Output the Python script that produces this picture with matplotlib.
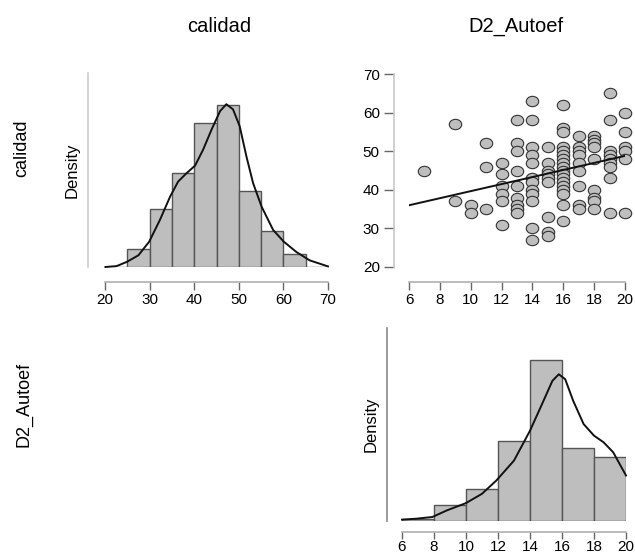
import numpy as np
import matplotlib
matplotlib.use("Agg")
import matplotlib.pyplot as plt
from matplotlib.path import Path
from matplotlib.transforms import Affine2D

plt.rcParams['font.family'] = ['Liberation Sans', 'DejaVu Sans']

# histograma de calidad (bins de 5)
cal_edges = [20, 25, 30, 35, 40, 45, 50, 55, 60, 65, 70]
cal_counts = [0, 8, 26, 42, 64, 72, 34, 16, 6, 0]

# histograma de D2_Autoef (bins de 2)
aut_edges = [6, 8, 10, 12, 14, 16, 18, 20]
aut_counts = [1, 10, 20, 50, 101, 46, 40]

# curvas de densidad leidas
kde_cal_x = [20.1, 22.6, 24.9, 27.5, 29.9, 32.3, 34.6, 36.4, 38.3, 40.2, 42.0, 43.9,
             45.8, 47.2, 48.7, 50.2, 51.7, 53.2, 55.1, 57.7, 60.1, 62.9, 65.9, 70.0]
kde_cal_y = [0.0000, 0.0003, 0.0017, 0.0039, 0.0084, 0.0156, 0.0234, 0.0284, 0.0312,
             0.0337, 0.0390, 0.0457, 0.0518, 0.0541, 0.0524, 0.0468, 0.0368, 0.0279,
             0.0201, 0.0123, 0.0084, 0.0050, 0.0022, 0.0002]
kde_aut_x = [6.0, 6.9, 7.9, 8.8, 10.0, 11.0, 11.9, 13.0, 14.0, 14.75, 15.4, 15.8,
             16.2, 16.7, 17.35, 18.0, 18.6, 19.2, 20.0]
kde_aut_y = [0.0016, 0.0027, 0.0047, 0.0124, 0.0210, 0.0319, 0.0475, 0.0708, 0.1058,
             0.1369, 0.1642, 0.1719, 0.1661, 0.1408, 0.1136, 0.1000, 0.0922, 0.0805,
             0.0533]

# dispersion D2_Autoef (x) vs calidad (y)
sc_aut = ([7] + [9]*2 + [10]*2 + [11]*3 + [12]*6 + [13]*9 + [14]*12 + [15]*9 +
          [16]*18 + [17]*9 + [18]*9 + [19]*9 + [20]*6)
sc_cal = ([45] +
          [57, 37] +
          [36, 34] +
          [52, 46, 35] +
          [47, 44, 41, 39, 37, 31] +
          [58, 52, 50, 45, 41, 38, 36, 35, 34] +
          [63, 58, 51, 49, 47, 43, 42, 40, 39, 37, 30, 27] +
          [51, 47, 45, 44, 43, 42, 33, 29, 28] +
          [62, 56, 55, 51, 50, 49, 48, 47, 46, 45, 44, 43, 42, 41, 40, 39, 36, 32] +
          [54, 51, 50, 49, 47, 45, 41, 36, 35] +
          [54, 53, 52, 51, 48, 40, 38, 37, 35] +
          [65, 58, 50, 49, 48, 47, 46, 43, 34] +
          [60, 55, 51, 50, 48, 34])

# recta de regresion
fit_intercept = 30.51
fit_slope = 0.914

W, H = 635, 556
fig = plt.figure(figsize=(W/100, H/100), dpi=100)

def axes_px(left, top, right, bottom):
    return fig.add_axes([left/W, 1 - bottom/H, (right-left)/W, (bottom-top)/H])

def estilo(ax, left_off, bottom_off, left_col):
    ax.patch.set_visible(False)
    ax.spines['top'].set_visible(False)
    ax.spines['right'].set_visible(False)
    ax.spines['left'].set_position(('outward', left_off))
    ax.spines['bottom'].set_position(('outward', bottom_off))
    ax.spines['left'].set_color(left_col)
    ax.spines['bottom'].set_color('#b0b0b0')
    ax.spines['left'].set_linewidth(1.2)
    ax.spines['bottom'].set_linewidth(1.2)
    ax.tick_params(axis='x', direction='out', length=6, width=1, color='#666666',
                   labelsize=11, pad=2)

def histograma(ax, edges, counts, kx, ky, ticks):
    edges = np.array(edges, dtype=float)
    counts = np.array(counts, dtype=float)
    w = np.diff(edges)
    dens = counts / (counts.sum() * w)
    ax.bar(edges[:-1], dens, width=w, align='edge', color='#bebebe',
           edgecolor='#555555', linewidth=1)
    ax.plot(kx, ky, color='#111111', lw=1.4, clip_on=False)
    ax.set_xlim(edges[0], edges[-1])
    ax.set_ylim(0, dens.max() * 1.2)
    ax.set_xticks(ticks)
    ax.set_yticks([])
    ax.set_ylabel('Density', fontsize=12, labelpad=6)

# calidad / calidad
ax1 = axes_px(105, 73, 328, 267)
estilo(ax1, 12, 11, '#cccccc')
histograma(ax1, cal_edges, cal_counts, kde_cal_x, kde_cal_y,
           [20, 30, 40, 50, 60, 70])

# calidad / D2_Autoef
ax2 = axes_px(409, 74, 625, 267)
estilo(ax2, 11, 11, '#c8c8c8')
ring = Path.unit_circle().transformed(Affine2D().scale(1.2, 1.0))
ax2.scatter(sc_aut, sc_cal, marker=ring, s=80, facecolor='#bebebe',
            edgecolor='#333333', linewidth=0.8, clip_on=False, zorder=3)
lx = np.array([6, 20])
ax2.plot(lx, fit_intercept + fit_slope * lx, color='#111111', lw=1.4, zorder=4)
ax2.set_xlim(6, 20)
ax2.set_ylim(20, 70)
ax2.set_xticks(range(6, 21, 2))
ax2.set_yticks(range(20, 71, 10))
ax2.tick_params(axis='y', direction='out', length=7, width=1, color='#666666',
                labelsize=11, pad=3)

# D2_Autoef / D2_Autoef
ax3 = axes_px(402, 328, 626, 521)
estilo(ax3, 11, 8, '#888888')
histograma(ax3, aut_edges, aut_counts, kde_aut_x, kde_aut_y,
           list(range(6, 21, 2)))
ax3.tick_params(axis='x', length=5, pad=1)

# nombres de variables
fig.text(219/W, 1 - 26/H, 'calidad', ha='center', va='center', fontsize=14.5)
fig.text(516/W, 1 - 26/H, 'D2_Autoef', ha='center', va='center', fontsize=14.5)
fig.text(22/W, 1 - 148/H, 'calidad', ha='center', va='center', rotation=90, fontsize=13)
fig.text(24/W, 1 - 404/H, 'D2_Autoef', ha='center', va='center', rotation=90, fontsize=13)

fig.savefig('out.png', dpi=100)
